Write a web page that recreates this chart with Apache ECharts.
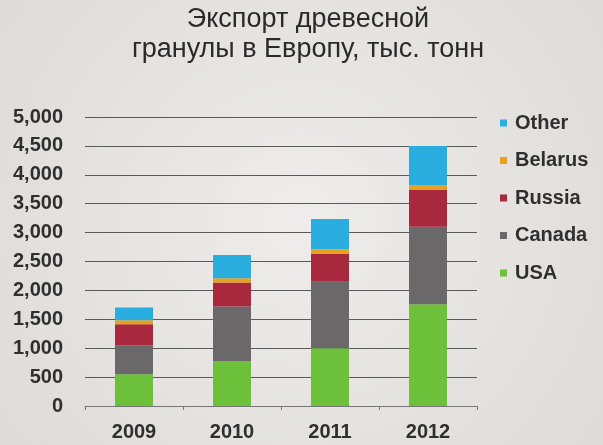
<!DOCTYPE html>
<html><head><meta charset="utf-8">
<script src="https://cdn.jsdelivr.net/npm/echarts@6/dist/echarts.min.js"></script>
<style>html,body{margin:0;padding:0;background:#e8e6e3;}#c{width:603px;height:445px;}</style>
</head><body><div id="c"></div>
<script>
const years = ['2009','2010','2011','2012'];
const usa = [550, 780, 1000, 1760];
const canada = [500, 940, 1150, 1340];
const russia = [365, 415, 480, 635];
const belarus = [70, 76, 80, 80];
const other = [220, 400, 525, 685];
const yTicks = [0,500,1000,1500,2000,2500,3000,3500,4000,4500,5000];

const chart = echarts.init(document.getElementById('c'));
const mk = (name, data, color) => ({name, type:'bar', stack:'t', data, barWidth:38, itemStyle:{color}});
chart.setOption({
  backgroundColor: {type:'radial', x:0.5, y:0.5, r:0.8, colorStops:[{offset:0,color:'#efedeb'},{offset:1,color:'#dedbd8'}]},
  animation:false,
  title:{text:'Экспорт древесной\nгранулы в Европу, тыс. тонн', left:303, top:0, textAlign:'center',
    textStyle:{fontFamily:'Liberation Sans', fontWeight:'normal', fontSize:27, lineHeight:30, color:'#2a2a2a'}},
  grid:{left:85, right:126, top:117, bottom:39},
  legend:{orient:'vertical', left:495, top:108, itemWidth:7, itemHeight:7, itemGap:17.5, icon:'rect',
    data:['Other','Belarus','Russia','Canada','USA'],
    textStyle:{fontFamily:'Liberation Sans', fontWeight:'bold', fontSize:20, color:'#2f2f2f', padding:[0,0,0,3]}},
  xAxis:{type:'category', data:years,
    axisLine:{lineStyle:{color:'#777'}}, axisTick:{show:true, length:4, lineStyle:{color:'#777'}},
    axisLabel:{fontFamily:'Liberation Sans', fontWeight:'bold', fontSize:20, color:'#2f2f2f', margin:16}},
  yAxis:{type:'value', min:0, max:5000, interval:500,
    axisLine:{show:false}, axisTick:{show:false},
    splitLine:{lineStyle:{color:'#5a5a5a', width:1}},
    axisLabel:{fontFamily:'Liberation Sans', fontWeight:'bold', fontSize:20, color:'#2f2f2f', margin:22,
      formatter:v=>v.toLocaleString('en-US')}},
  series:[
    mk('USA', usa, '#6cc03a'),
    mk('Canada', canada, '#6a6868'),
    mk('Russia', russia, '#a8283e'),
    mk('Belarus', belarus, '#e8a020'),
    mk('Other', other, '#2aaee0')
  ]
});
</script></body></html>
